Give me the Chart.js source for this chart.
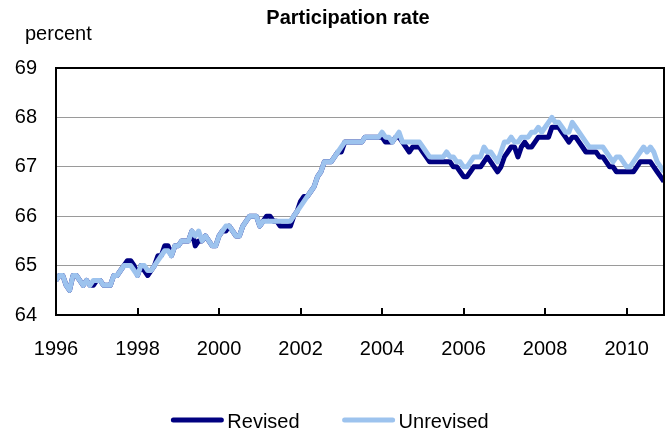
<!DOCTYPE html>
<html>
<head>
<meta charset="utf-8">
<script src="https://cdn.jsdelivr.net/npm/chart.js@4.4.0/dist/chart.umd.min.js"></script>
<style>
  html, body { margin: 0; padding: 0; background: #fff; }
  #wrap { width: 672px; height: 432px; position: relative; }
</style>
</head>
<body>
<div id="wrap"><canvas id="chart"></canvas></div>
<script>
/* Participation rate, monthly, Jan 1996 - Dec 2010 (percent) */

const chartTitle = 'Participation rate';
const unitLabel = 'percent';
const seriesNames = ['Revised', 'Unrevised'];
const yearTicks = ['1996', '1998', '2000', '2002', '2004', '2006', '2008', '2010'];
const monthsPerTick = 24;

// one row per year, Jan..Dec
const revised = [
  64.7, 64.8, 64.8, 64.6, 64.5, 64.8, 64.8, 64.7, 64.6, 64.7, 64.6, 64.6,
  64.7, 64.7, 64.6, 64.6, 64.6, 64.8, 64.8, 64.9, 65.0, 65.1, 65.1, 65.0,
  64.8, 65.0, 64.9, 64.8, 64.9, 65.0, 65.2, 65.2, 65.4, 65.4, 65.2, 65.4,
  65.4, 65.5, 65.5, 65.5, 65.7, 65.4, 65.5, 65.5, 65.6, 65.5, 65.4, 65.4,
  65.6, 65.7, 65.7, 65.8, 65.7, 65.6, 65.6, 65.8, 65.9, 66.0, 66.0, 66.0,
  65.8, 65.9, 66.0, 66.0, 65.9, 65.9, 65.8, 65.8, 65.8, 65.8, 66.0, 66.1,
  66.3, 66.4, 66.4, 66.5, 66.6, 66.8, 66.9, 67.1, 67.1, 67.1, 67.2, 67.3,
  67.3, 67.5, 67.5, 67.5, 67.5, 67.5, 67.5, 67.6, 67.6, 67.6, 67.6, 67.6,
  67.6, 67.5, 67.5, 67.5, 67.6, 67.6, 67.5, 67.4, 67.3, 67.4, 67.4, 67.4,
  67.3, 67.2, 67.1, 67.1, 67.1, 67.1, 67.1, 67.1, 67.1, 67.0, 67.0, 66.9,
  66.8, 66.8, 66.9, 67.0, 67.0, 67.0, 67.1, 67.2, 67.1, 67.0, 66.9, 67.0,
  67.2, 67.3, 67.4, 67.4, 67.2, 67.4, 67.5, 67.4, 67.4, 67.5, 67.6, 67.6,
  67.6, 67.6, 67.8, 67.8, 67.8, 67.7, 67.6, 67.5, 67.6, 67.6, 67.5, 67.4,
  67.3, 67.3, 67.3, 67.3, 67.2, 67.2, 67.1, 67.0, 67.0, 66.9, 66.9, 66.9,
  66.9, 66.9, 66.9, 67.0, 67.1, 67.1, 67.1, 67.1, 67.0, 66.9, 66.8, 66.7
];

const unrevised = [
  64.7, 64.8, 64.8, 64.6, 64.5, 64.8, 64.8, 64.7, 64.6, 64.7, 64.6, 64.7,
  64.7, 64.7, 64.6, 64.6, 64.6, 64.8, 64.8, 64.9, 65.0, 65.0, 65.0, 64.9,
  64.8, 65.0, 65.0, 64.9, 64.9, 65.0, 65.1, 65.2, 65.3, 65.3, 65.2, 65.4,
  65.4, 65.5, 65.5, 65.5, 65.7, 65.6, 65.7, 65.5, 65.6, 65.5, 65.4, 65.4,
  65.6, 65.7, 65.8, 65.8, 65.7, 65.6, 65.6, 65.8, 65.9, 66.0, 66.0, 66.0,
  65.8, 65.9, 65.9, 65.9, 65.9, 65.9, 65.9, 65.9, 65.9, 65.9, 66.0, 66.1,
  66.2, 66.3, 66.4, 66.5, 66.6, 66.8, 66.9, 67.1, 67.1, 67.1, 67.2, 67.3,
  67.4, 67.5, 67.5, 67.5, 67.5, 67.5, 67.5, 67.6, 67.6, 67.6, 67.6, 67.6,
  67.7, 67.6, 67.6, 67.5, 67.6, 67.7, 67.5, 67.5, 67.5, 67.5, 67.5, 67.5,
  67.4, 67.3, 67.2, 67.2, 67.2, 67.2, 67.2, 67.3, 67.2, 67.2, 67.1, 67.1,
  67.0, 67.0, 67.1, 67.2, 67.2, 67.2, 67.4, 67.3, 67.3, 67.2, 67.1, 67.3,
  67.5, 67.5, 67.6, 67.5, 67.5, 67.6, 67.6, 67.6, 67.7, 67.7, 67.8, 67.7,
  67.8, 67.9, 68.0, 67.9, 67.9, 67.8, 67.7, 67.7, 67.9, 67.8, 67.7, 67.6,
  67.5, 67.4, 67.4, 67.4, 67.4, 67.4, 67.3, 67.2, 67.1, 67.2, 67.2, 67.1,
  67.0, 67.0, 67.1, 67.2, 67.3, 67.4, 67.3, 67.4, 67.3, 67.1, 67.0, 66.9
];

const colors = {
  revised: '#000080',
  unrevised: '#9dc3ee',
  grid: '#9a9a9a',
  frame: '#000000',
  text: '#000000'
};
const FONT = "'Liberation Sans', Arial, sans-serif";

const toPoints = arr => arr.map((v, i) => ({ x: i, y: v }));

// frame, inward tick marks, title, unit label and legend
const decorations = {
  id: 'decorations',
  afterDatasetsDraw(chart) {
    const { ctx, chartArea: a, scales } = chart;
    ctx.save();

    // inward x tick marks
    ctx.strokeStyle = colors.frame;
    ctx.lineWidth = 2;
    yearTicks.forEach((t, i) => {
      const x = Math.round(scales.x.getPixelForValue(i * monthsPerTick));
      ctx.beginPath();
      ctx.moveTo(x, a.bottom);
      ctx.lineTo(x, a.bottom - 7);
      ctx.stroke();
    });

    // plot frame
    ctx.strokeRect(a.left, a.top, a.right - a.left, a.bottom - a.top);

    ctx.fillStyle = colors.text;
    ctx.textBaseline = 'middle';

    ctx.font = 'bold 20px ' + FONT;
    ctx.textAlign = 'center';
    ctx.fillText(chartTitle, 348, 18);

    ctx.font = '20px ' + FONT;
    ctx.textAlign = 'left';
    ctx.fillText(unitLabel, 25, 34);

    // legend
    const lineLen = 52, gap = 4, spacing = 43, legendY = 420, centerX = 330;
    const cols = [colors.revised, colors.unrevised];
    const widths = seriesNames.map(n => ctx.measureText(n).width);
    const total = widths.reduce((s, w) => s + lineLen + gap + w, 0) + spacing * (seriesNames.length - 1);
    let x = centerX - total / 2;
    ctx.lineCap = 'round';
    seriesNames.forEach((n, i) => {
      ctx.strokeStyle = cols[i];
      ctx.lineWidth = 5;
      ctx.beginPath();
      ctx.moveTo(x + 2, legendY);
      ctx.lineTo(x + lineLen - 2, legendY);
      ctx.stroke();
      ctx.fillText(n, x + lineLen + gap, legendY + 2);
      x += lineLen + gap + widths[i] + spacing;
    });

    ctx.restore();
  }
};

new Chart(document.getElementById('chart'), {
  type: 'line',
  data: {
    datasets: [
      {
        label: seriesNames[0],
        data: toPoints(revised),
        borderColor: colors.revised,
        borderWidth: 5,
        pointRadius: 0,
        tension: 0,
        borderJoinStyle: 'round',
        order: 2
      },
      {
        label: seriesNames[1],
        data: toPoints(unrevised),
        borderColor: colors.unrevised,
        borderWidth: 5,
        pointRadius: 0,
        tension: 0,
        borderJoinStyle: 'round',
        order: 1
      }
    ]
  },
  options: {
    responsive: true,
    maintainAspectRatio: false,
    animation: false,
    events: [],
    layout: { padding: { left: 0, right: 8, top: 68, bottom: 57 } },
    plugins: {
      legend: { display: false },
      title: { display: false },
      tooltip: { enabled: false }
    },
    scales: {
      x: {
        type: 'linear',
        min: 0,
        max: revised.length - 1,
        afterBuildTicks: (scale) => {
          scale.ticks = yearTicks.map((t, i) => ({ value: i * monthsPerTick }));
        },
        afterFit: (scale) => { scale.height = 60; },
        grid: { display: false, drawTicks: false },
        border: { display: false },
        ticks: {
          color: colors.text,
          font: { family: FONT, size: 20 },
          padding: 22,
          maxRotation: 0,
          autoSkip: false,
          callback: (val) => yearTicks[Math.round(val / monthsPerTick)]
        }
      },
      y: {
        min: 64,
        max: 69,
        afterFit: (scale) => { scale.width = 56; },
        grid: { color: colors.grid, lineWidth: 1, drawTicks: false },
        border: { display: false },
        ticks: {
          stepSize: 1,
          color: colors.text,
          font: { family: FONT, size: 20 },
          padding: 19
        }
      }
    }
  },
  plugins: [decorations]
});
</script>
</body>
</html>
